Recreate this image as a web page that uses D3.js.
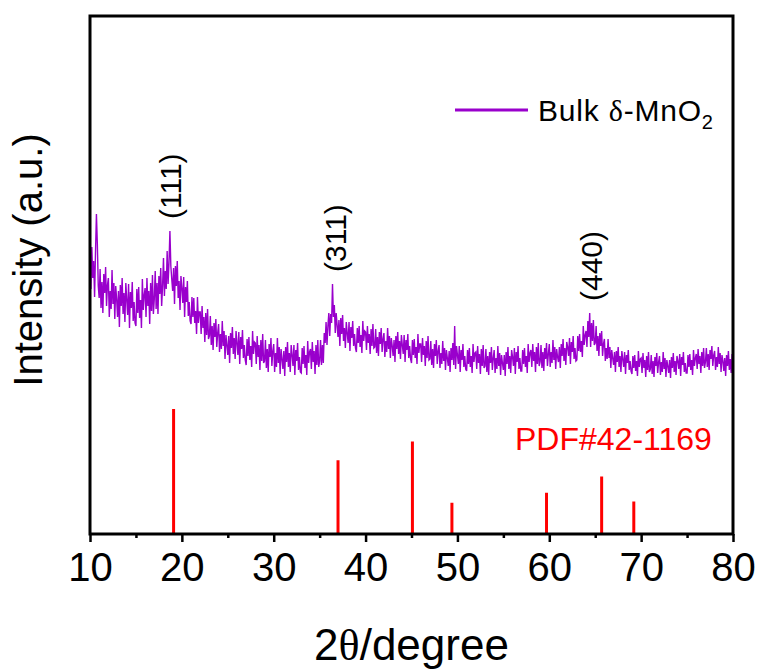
<!DOCTYPE html>
<html>
<head>
<meta charset="utf-8">
<script src="https://cdn.jsdelivr.net/npm/d3@7/dist/d3.min.js"></script>
<style>
  body { margin: 0; background: #fff; }
  svg text { font-family: "Liberation Sans", Arial, sans-serif; }
</style>
</head>
<body>
<svg id="chart" width="763" height="669"></svg>
<script>
// XRD pattern of bulk delta-MnO2, sampled every 0.1 degree from 10 to 80 (2theta)
const twoThetaStart = 10;
const twoThetaStep = 0.1;
const intensity = [
  276, 245, 287, 256, 273, 237, 282, 320, 290, 248,   // 10
  236, 265, 226, 252, 221, 260, 241, 267, 228, 249,   // 11
  256, 217, 243, 225, 264, 230, 251, 215, 248, 235,   // 12
  217, 243, 207, 249, 228, 256, 220, 241, 212, 251,   // 13
  234, 219, 250, 206, 242, 226, 252, 213, 232, 211,   // 14
  208, 245, 221, 247, 216, 234, 206, 255, 224, 239,   // 15
  246, 217, 256, 228, 243, 210, 251, 223, 259, 220,   // 16
  235, 263, 225, 251, 220, 258, 240, 266, 228, 248,   // 17
  276, 238, 263, 245, 283, 250, 271, 303, 268, 255,   // 18
  243, 266, 230, 268, 248, 273, 236, 253, 224, 258,   // 19
  246, 231, 257, 217, 247, 232, 253, 218, 232, 213,   // 20
  210, 237, 217, 236, 211, 223, 200, 237, 211, 222,   // 21
  222, 200, 228, 206, 217, 192, 221, 199, 225, 195,   // 22
  198, 218, 189, 208, 184, 211, 197, 215, 187, 201,   // 23
  210, 182, 200, 185, 213, 188, 203, 175, 199, 189,   // 24
  179, 198, 171, 201, 186, 207, 180, 196, 175, 203,   // 25
  191, 179, 202, 170, 197, 185, 204, 176, 189, 174,   // 26
  169, 195, 178, 197, 174, 188, 167, 203, 180, 192,   // 27
  191, 170, 198, 177, 189, 164, 194, 173, 200, 171,   // 28
  173, 194, 166, 185, 162, 190, 177, 196, 168, 183,   // 29
  190, 162, 181, 167, 196, 171, 187, 160, 185, 175,   // 30
  165, 183, 158, 187, 172, 192, 167, 181, 162, 189,   // 31
  179, 168, 189, 159, 184, 173, 191, 164, 177, 162,   // 32
  161, 186, 170, 188, 166, 179, 159, 193, 171, 182,   // 33
  185, 165, 192, 172, 183, 160, 189, 169, 194, 167,   // 34
  173, 194, 169, 189, 171, 201, 191, 212, 189, 208,   // 35
  221, 198, 220, 211, 250, 217, 229, 201, 221, 209,   // 36
  197, 214, 188, 216, 200, 219, 193, 206, 186, 212,   // 37
  201, 191, 212, 183, 207, 196, 213, 188, 200, 186,   // 38
  182, 206, 191, 208, 187, 199, 181, 213, 193, 203,   // 39
  202, 184, 208, 191, 200, 180, 205, 188, 210, 186,   // 40
  187, 205, 181, 197, 178, 202, 190, 206, 182, 195,   // 41
  201, 177, 193, 182, 206, 185, 198, 176, 196, 188,   // 42
  178, 194, 172, 198, 185, 202, 180, 193, 175, 199,   // 43
  189, 180, 199, 172, 194, 184, 200, 176, 188, 175,   // 44
  171, 194, 179, 195, 176, 187, 170, 200, 181, 190,   // 45
  190, 172, 196, 179, 188, 168, 193, 176, 198, 174,   // 46
  175, 193, 169, 185, 166, 190, 178, 194, 170, 183,   // 47
  189, 166, 181, 170, 193, 173, 186, 164, 184, 176,   // 48
  168, 183, 162, 186, 174, 191, 169, 208, 165, 188,   // 49
  179, 170, 188, 162, 184, 174, 190, 167, 178, 165,   // 50
  163, 184, 170, 186, 167, 178, 161, 190, 172, 181,   // 51
  182, 165, 188, 171, 180, 160, 185, 168, 189, 166,   // 52
  168, 185, 162, 178, 159, 182, 171, 187, 164, 176,   // 53
  184, 161, 176, 165, 188, 168, 181, 159, 179, 171,   // 54
  164, 179, 158, 182, 170, 187, 165, 178, 161, 184,   // 55
  177, 168, 186, 160, 182, 172, 188, 165, 176, 163,   // 56
  163, 184, 170, 186, 167, 178, 161, 190, 172, 181,   // 57
  184, 167, 190, 173, 182, 162, 187, 170, 191, 168,   // 58
  172, 189, 166, 182, 163, 186, 175, 191, 168, 180,   // 59
  190, 167, 182, 171, 194, 174, 187, 165, 185, 177,   // 60
  172, 187, 166, 190, 178, 195, 173, 186, 169, 192,   // 61
  187, 178, 196, 170, 192, 182, 198, 175, 186, 173,   // 62
  174, 198, 183, 200, 182, 193, 177, 208, 189, 199,   // 63
  203, 187, 213, 197, 221, 187, 211, 193, 214, 189,   // 64
  191, 208, 183, 198, 178, 201, 188, 203, 178, 190,   // 65
  195, 173, 186, 175, 195, 176, 187, 166, 184, 176,   // 66
  169, 182, 162, 183, 172, 187, 167, 178, 162, 183,   // 67
  175, 167, 182, 160, 179, 171, 184, 164, 173, 163,   // 68
  160, 178, 166, 179, 163, 173, 158, 183, 167, 175,   // 69
  176, 161, 181, 166, 174, 157, 178, 164, 182, 162,   // 70
  165, 179, 160, 173, 157, 177, 168, 181, 161, 172,   // 71
  178, 159, 172, 162, 182, 165, 176, 157, 174, 168,   // 72
  161, 174, 156, 177, 166, 181, 162, 173, 159, 178,   // 73
  173, 165, 180, 158, 177, 169, 182, 162, 171, 161,   // 74
  161, 179, 167, 180, 164, 174, 159, 184, 168, 176,   // 75
  180, 165, 185, 170, 178, 161, 182, 168, 186, 166,   // 76
  172, 186, 167, 180, 164, 184, 175, 188, 168, 179,   // 77
  183, 164, 177, 167, 187, 170, 181, 162, 179, 173,   // 78
  163, 176, 158, 179, 168, 183, 164, 175, 161, 180,   // 79
  168                                                 // 80
];

// Standard reference pattern PDF#42-1169 (relative intensities, %)
const refPositions = [19.1, 37.0, 45.1, 49.4, 59.7, 65.7, 69.2];
const refIntensities = [100, 59, 74, 25, 33, 46, 26];

// Indexed reflections
const peakLabels = ["(111)", "(311)", "(440)"];
const peakPositions = [18.7, 36.7, 64.5];

const xTickValues = [10, 20, 30, 40, 50, 60, 70, 80];
const xMinorTickValues = [15, 25, 35, 45, 55, 65, 75];

const refName = "PDF#42-1169";

const purple = "#9900cc";
const red = "#ff0000";

const svg = d3.select("#chart");
const margin = { left: 90, right: 30, top: 16, bottom: 135 };
const W = 763, H = 669;

const x = d3.scaleLinear().domain([10, 80]).range([margin.left, W - margin.right]);
const y = d3.scaleLinear().domain([0, 518]).range([H - margin.bottom, margin.top]);
// reference sticks share the baseline; 100 % maps to 125 a.u.
const refY = d3.scaleLinear().domain([0, 100]).range([y(0), y(125)]);

const pattern = intensity.map((v, i) => ({ t: twoThetaStart + i * twoThetaStep, v }));

// measured pattern
svg.append("path")
  .datum(pattern)
  .attr("fill", "none")
  .attr("stroke", purple)
  .attr("stroke-width", 1.4)
  .attr("d", d3.line().x(d => x(d.t)).y(d => y(d.v)));

// reference sticks
svg.append("g").selectAll("line")
  .data(refPositions.map((p, i) => ({ p, v: refIntensities[i] })))
  .join("line")
  .attr("x1", d => x(d.p)).attr("x2", d => x(d.p))
  .attr("y1", y(0)).attr("y2", d => refY(d.v))
  .attr("stroke", red)
  .attr("stroke-width", 3);

// peak labels, rotated, placed above the local maximum
peakLabels.forEach((lab, i) => {
  const p = peakPositions[i];
  const top = d3.max(pattern.filter(d => Math.abs(d.t - p) <= 0.6), d => d.v);
  svg.append("text")
    .attr("transform", `translate(${x(p) + 11},${y(top) - 12}) rotate(-90)`)
    .attr("text-anchor", "start")
    .attr("font-size", 30)
    .attr("fill", "#000")
    .text(lab);
});

// frame
svg.append("rect")
  .attr("x", x(10)).attr("y", y(518))
  .attr("width", x(80) - x(10)).attr("height", y(0) - y(518))
  .attr("fill", "none").attr("stroke", "#000").attr("stroke-width", 3);

// bottom axis: major ticks with labels
const gx = svg.append("g").attr("transform", `translate(0,${y(0)})`)
  .call(d3.axisBottom(x).tickValues(xTickValues).tickSize(8).tickSizeOuter(0).tickPadding(11).tickFormat(d3.format("d")));
gx.select(".domain").remove();
gx.selectAll(".tick line").attr("stroke", "#000").attr("stroke-width", 2.5);
gx.selectAll(".tick text").attr("font-size", 40).attr("fill", "#000")
  .attr("font-family", "Liberation Sans, Arial, sans-serif");

// bottom axis: minor ticks
const gxm = svg.append("g").attr("transform", `translate(0,${y(0)})`)
  .call(d3.axisBottom(x).tickValues(xMinorTickValues).tickSize(4).tickSizeOuter(0).tickFormat(""));
gxm.select(".domain").remove();
gxm.selectAll(".tick line").attr("stroke", "#000").attr("stroke-width", 2.5);

// axis titles
const xt = svg.append("text")
  .attr("x", (x(10) + x(80)) / 2).attr("y", 660)
  .attr("text-anchor", "middle").attr("font-size", 44).attr("fill", "#000");
xt.append("tspan").text("2");
xt.append("tspan").attr("font-family", "Liberation Serif, serif").text("θ");
xt.append("tspan").text("/degree");

svg.append("text")
  .attr("transform", "translate(42,260) rotate(-90)")
  .attr("text-anchor", "middle").attr("font-size", 40).attr("fill", "#000")
  .text("Intensity (a.u.)");

// legend
svg.append("line")
  .attr("x1", 455).attr("x2", 528).attr("y1", 110).attr("y2", 110)
  .attr("stroke", purple).attr("stroke-width", 3);
const lt = svg.append("text")
  .attr("x", 538).attr("y", 121).attr("font-size", 30).attr("letter-spacing", 0.8).attr("fill", "#000");
lt.append("tspan").text("Bulk ");
lt.append("tspan").attr("font-family", "Liberation Serif, serif").text("δ");
lt.append("tspan").text("-MnO");
lt.append("tspan").attr("font-size", 20).attr("dy", 8).text("2");

// reference pattern label
svg.append("text")
  .attr("x", 515).attr("y", 450).attr("font-size", 32).attr("fill", red)
  .text(refName);
</script>
</body>
</html>
